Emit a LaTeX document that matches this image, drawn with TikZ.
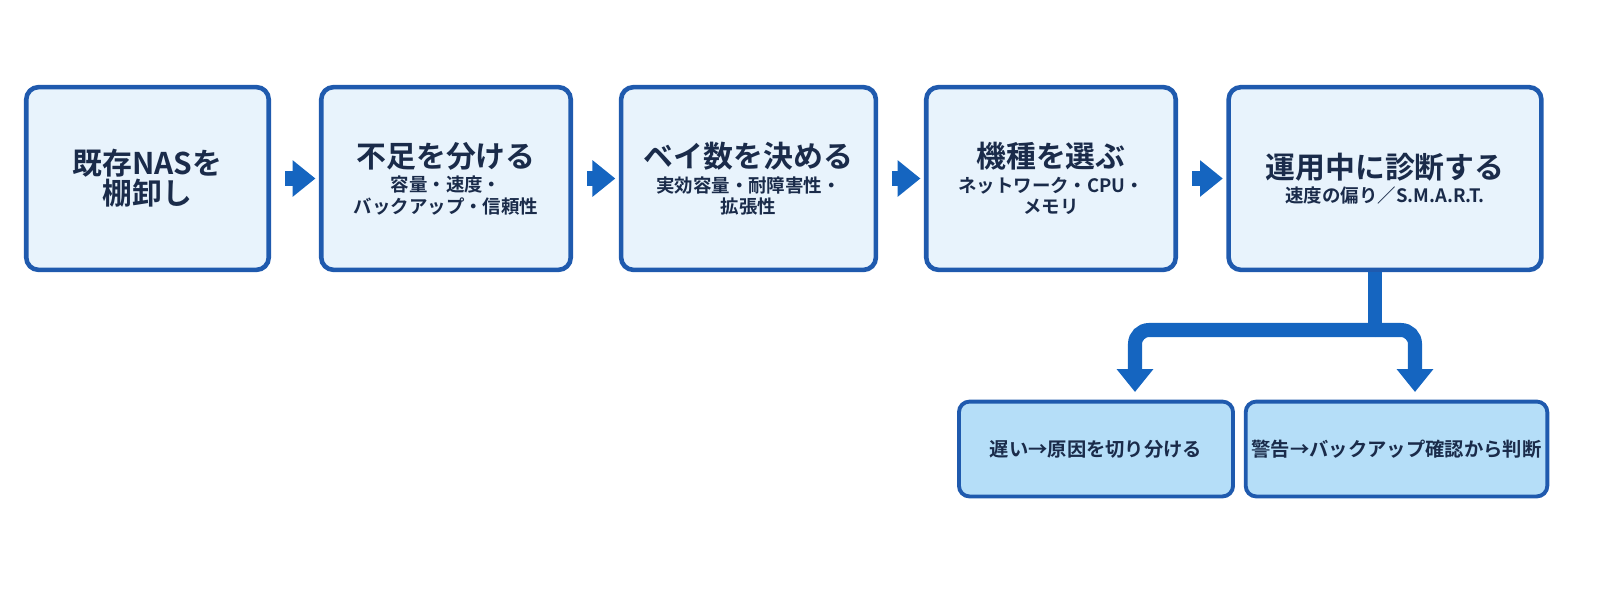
\documentclass[tikz,border=0pt]{standalone}
\usepackage{fontspec}
\newfontfamily\cjk{Noto Sans CJK JP}[BoldFont={Noto Sans CJK JP Bold}]
\usetikzlibrary{arrows.meta,positioning}
\definecolor{boxline}{HTML}{1F5AAE}
\definecolor{boxfill}{HTML}{E8F3FC}
\definecolor{subfill}{HTML}{B5DEF8}
\definecolor{flow}{HTML}{1565C0}
\definecolor{ink}{HTML}{1A2B4A}
\tikzset{
  step/.style={draw=boxline, fill=boxfill, line width=2.6pt, rounded corners=7pt,
    minimum width=#1, minimum height=104pt, align=center, text=ink, font=\cjk\bfseries},
  step/.default=138pt,
  leaf/.style={draw=boxline, fill=subfill, line width=2.2pt, rounded corners=6pt,
    minimum width=156pt, minimum height=54pt, align=center, text=ink, font=\cjk\bfseries\fontsize{11}{13}\selectfont},
  flowarrow/.style={draw=flow, line width=8pt, -{Triangle[length=13pt, width=20pt]}},
}
\newcommand{\titlesize}{\fontsize{17}{24}\selectfont}
\newcommand{\notesize}{\fontsize{10.5}{15}\selectfont}
\begin{document}
\begin{tikzpicture}[x=0.02cm, y=-0.02cm]
% main steps
\node[step] (inventory) at (147.5,178.5) {\fontsize{17}{28}\selectfont 既存NASを\\\fontsize{17}{28}\selectfont 棚卸し};
\node[step=142pt] (shortage) at (446,178.5) {\titlesize 不足を分ける\\[2pt]\notesize 容量・速度・\\\notesize バックアップ・信頼性};
\node[step=145pt] (bays) at (748.5,178.5) {\titlesize ベイ数を決める\\[2pt]\notesize 実効容量・耐障害性・\\\notesize 拡張性};
\node[step=142pt] (model) at (1051,178.5) {\titlesize 機種を選ぶ\\[2pt]\notesize ネットワーク・CPU・\\\notesize メモリ};
\node[step=178pt] (monitor) at (1385,178.5) {\titlesize 運用中に診断する\\[2pt]\notesize 速度の偏り／S.M.A.R.T.};
% results
\node[leaf] (slow) at (1096,449) {遅い→原因を切り分ける};
\node[leaf, minimum width=165pt] (alert) at (1396.5,449) {警告→バックアップ確認から判断};
% flow
\draw[flowarrow] ([xshift=8]inventory.east) -- ([xshift=-2]shortage.west);
\draw[flowarrow] ([xshift=8]shortage.east) -- ([xshift=-2]bays.west);
\draw[flowarrow] ([xshift=8]bays.east) -- ([xshift=-2]model.west);
\draw[flowarrow] ([xshift=8]model.east) -- ([xshift=-2]monitor.west);
% branch
\coordinate (fork) at (1375,330);
\coordinate (left drop) at (1135,392);
\coordinate (right drop) at (1415,392);
\draw[draw=flow, line width=8pt] (monitor.south -| fork) -- (fork);
\draw[flowarrow, rounded corners=8pt] (fork) -| (left drop);
\draw[flowarrow, rounded corners=8pt] (fork) -| (right drop);
\pgfresetboundingbox
\useasboundingbox (0,0) rectangle (1600,600);
\end{tikzpicture}
\end{document}
